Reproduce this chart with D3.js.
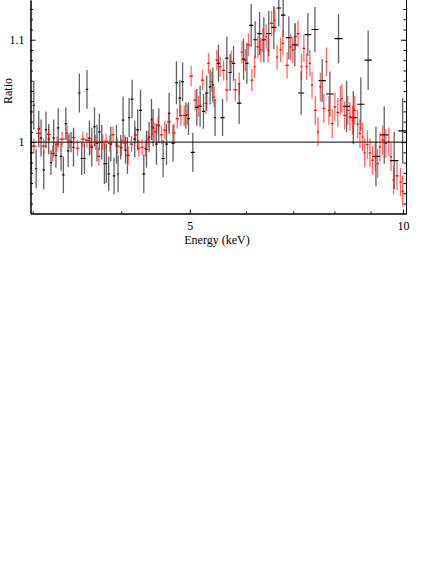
<!DOCTYPE html>
<html>
<head>
<meta charset="utf-8">
<script src="https://cdn.jsdelivr.net/npm/d3@7"></script>
<style>
  body { margin: 0; background: #fff; }
  svg { display: block; }
  text { font-family: "Liberation Serif", "DejaVu Serif", serif; }
</style>
</head>
<body>
<svg id="chart"></svg>
<script>
// Data group 1 (black): energy (keV), data/model ratio, 1-sigma error
const blackE = [2.984, 3.01, 3.033, 3.059, 3.082, 3.109, 3.132, 3.16, 3.183, 3.211,
  3.235, 3.259, 3.289, 3.314, 3.341, 3.366, 3.398, 3.425, 3.491, 3.518,
  3.549, 3.579, 3.607, 3.635, 3.667, 3.697, 3.726, 3.754, 3.787, 3.811,
  3.84, 3.867, 3.908, 3.939, 3.959, 3.994, 4.024, 4.056, 4.082, 4.104,
  4.144, 4.18, 4.22, 4.259, 4.305, 4.343, 4.38, 4.414, 4.437, 4.486,
  4.52, 4.584, 4.635, 4.674, 4.735, 4.787, 4.84, 4.884, 4.935, 4.979,
  5.049, 5.115, 5.17, 5.227, 5.283, 5.341, 5.388, 5.428, 5.488, 5.562,
  5.64, 5.70, 5.764, 5.871, 5.955, 6.02, 6.104, 6.184, 6.273, 6.361,
  6.464, 6.571, 6.678, 6.774, 6.90, 7.036, 7.182, 7.341, 7.51, 7.69,
  7.886, 8.11, 8.326, 8.51, 8.72, 8.93, 9.16, 9.41, 9.72, 9.99];
const blackRatio = [0.990, 1.036, 0.974, 1.013, 1.004, 0.973, 1.012, 1.003, 0.980, 1.004,
  0.987, 1.014, 0.986, 0.968, 1.018, 0.9915, 1.000, 0.995, 1.048, 0.984,
  0.984, 1.0515, 1.004, 0.995, 1.015, 0.999, 1.010, 1.000, 0.979, 0.979,
  0.969, 0.998, 0.967, 0.998, 0.969, 0.995, 1.0215, 0.992, 0.987, 1.024,
  1.042, 1.003, 1.012, 1.031, 0.969, 0.993, 1.005, 1.022, 1.014, 0.998,
  1.016, 0.984, 0.998, 1.028, 0.999, 1.058, 1.043, 1.059, 1.026, 1.023,
  0.990, 1.034, 1.035, 1.030, 1.048, 1.054, 1.056, 1.024, 1.077, 1.024,
  1.082, 1.068, 1.077, 1.038, 1.081, 1.077, 1.114, 1.100, 1.106, 1.100,
  1.106, 1.112, 1.131, 1.124, 1.102, 1.095, 1.048, 1.105, 1.110, 1.060,
  1.047, 1.101, 1.035, 1.024, 1.037, 1.080, 0.986, 1.007, 0.982, 1.011];
const blackErr = [0.018, 0.024, 0.019, 0.018, 0.018, 0.019, 0.018, 0.015, 0.012, 0.018,
  0.012, 0.019, 0.014, 0.018, 0.016, 0.016, 0.010, 0.019, 0.019, 0.016,
  0.015, 0.019, 0.017, 0.019, 0.019, 0.018, 0.018, 0.017, 0.020, 0.019,
  0.017, 0.017, 0.018, 0.019, 0.018, 0.012, 0.023, 0.013, 0.018, 0.019,
  0.019, 0.018, 0.020, 0.020, 0.019, 0.018, 0.015, 0.020, 0.018, 0.020,
  0.017, 0.018, 0.020, 0.020, 0.018, 0.021, 0.018, 0.019, 0.013, 0.016,
  0.019, 0.018, 0.020, 0.017, 0.017, 0.017, 0.017, 0.018, 0.018, 0.018,
  0.021, 0.018, 0.017, 0.020, 0.020, 0.020, 0.021, 0.018, 0.021, 0.022,
  0.022, 0.021, 0.018, 0.021, 0.021, 0.021, 0.021, 0.021, 0.022, 0.021,
  0.022, 0.024, 0.025, 0.026, 0.026, 0.029, 0.029, 0.028, 0.028, 0.032];

// Data group 2 (red)
const redE = [3.01, 3.059, 3.109, 3.16, 3.201, 3.246, 3.30, 3.354, 3.381, 3.426,
  3.47, 3.53, 3.579, 3.626, 3.679, 3.718, 3.767, 3.808, 3.854, 3.895,
  3.951, 4.003, 4.047, 4.091, 4.136, 4.19, 4.235, 4.281, 4.329, 4.366,
  4.423, 4.463, 4.511, 4.56, 4.61, 4.67, 4.75, 4.80, 4.856, 4.909,
  4.96, 5.021, 5.087, 5.144, 5.21, 5.267, 5.313, 5.371, 5.411, 5.459,
  5.518, 5.58, 5.64, 5.72, 5.797, 5.871, 5.923, 5.99, 6.052, 6.118,
  6.172, 6.239, 6.30, 6.34, 6.41, 6.45, 6.523, 6.592, 6.64, 6.717,
  6.767, 6.86, 6.94, 6.99, 7.05, 7.11, 7.19, 7.245, 7.31, 7.389,
  7.44, 7.52, 7.586, 7.645, 7.73, 7.80, 7.86, 7.945, 8.015, 8.09,
  8.16, 8.20, 8.27, 8.36, 8.416, 8.49, 8.55, 8.63, 8.694, 8.77,
  8.83, 8.91, 8.982, 9.06, 9.14, 9.21, 9.279, 9.36, 9.46, 9.55,
  9.62, 9.70, 9.81, 9.92, 9.99];
const redRatio = [0.996, 1.0085, 0.996, 1.0075, 0.989, 0.998, 1.003, 1.0085, 1.001, 1.0045,
  0.994, 1.003, 1.002, 0.996, 0.9997, 0.986, 1.000, 1.001, 0.9987, 1.007,
  0.996, 0.9945, 0.9993, 0.987, 0.998, 1.007, 0.994, 0.995, 0.994, 1.003,
  1.015, 1.010, 1.0166, 1.007, 1.0117, 1.0198, 1.009, 1.023, 1.026, 1.026,
  1.027, 1.0645, 1.041, 1.035, 1.0606, 1.0378, 1.077, 1.059, 1.044, 1.080,
  1.0736, 1.070, 1.051, 1.0785, 1.051, 1.057, 1.088, 1.080, 1.095, 1.0606,
  1.0736, 1.093, 1.090, 1.0997, 1.103, 1.090, 1.116, 1.119, 1.083, 1.090,
  1.0965, 1.075, 1.093, 1.090, 1.103, 1.106, 1.0736, 1.0916, 1.0736, 1.077,
  1.0557, 1.031, 1.010, 1.054, 1.033, 1.0785, 1.031, 1.018, 1.0345, 1.029,
  1.041, 1.0427, 1.026, 1.031, 1.025, 1.0215, 1.031, 1.0176, 1.0085, 1.005,
  0.9895, 0.9977, 0.9895, 0.9824, 0.9856, 0.979, 0.9954, 1.002, 0.9987, 1.0003,
  0.9856, 0.963, 0.967, 0.961, 0.952];
const redErr = [0.0075, 0.0075, 0.0075, 0.0075, 0.008, 0.0075, 0.0075, 0.0075, 0.0075, 0.0075,
  0.0075, 0.0075, 0.0075, 0.0075, 0.0075, 0.009, 0.0075, 0.0075, 0.008, 0.008,
  0.008, 0.008, 0.008, 0.009, 0.008, 0.008, 0.008, 0.008, 0.008, 0.008,
  0.009, 0.009, 0.009, 0.009, 0.009, 0.009, 0.009, 0.010, 0.010, 0.010,
  0.010, 0.010, 0.010, 0.010, 0.010, 0.010, 0.010, 0.010, 0.010, 0.010,
  0.010, 0.010, 0.011, 0.011, 0.011, 0.011, 0.011, 0.011, 0.011, 0.011,
  0.011, 0.011, 0.012, 0.012, 0.012, 0.012, 0.012, 0.012, 0.012, 0.012,
  0.012, 0.013, 0.013, 0.013, 0.013, 0.013, 0.013, 0.013, 0.013, 0.013,
  0.013, 0.014, 0.014, 0.014, 0.014, 0.014, 0.014, 0.014, 0.014, 0.014,
  0.014, 0.014, 0.014, 0.014, 0.014, 0.014, 0.014, 0.014, 0.014, 0.014,
  0.014, 0.014, 0.014, 0.014, 0.014, 0.014, 0.014, 0.014, 0.014, 0.014,
  0.014, 0.014, 0.014, 0.014, 0.015];

// Axis ticks
const xMajorTicks = [5, 10];
const xMinorTicks = [3, 4, 6, 7, 8, 9];
const yMajorTicks = [1, 1.1];
const yMinorTicks = [0.94, 0.95, 0.96, 0.97, 0.98, 0.99, 1.01, 1.02, 1.03, 1.04,
  1.05, 1.06, 1.07, 1.08, 1.09, 1.11, 1.12, 1.13];

const W = 441, H = 570;
const plotLeft = 30.5, plotRight = 406, plotTop = 0, plotBottom = 213.5;

const svg = d3.select("#chart").attr("width", W).attr("height", H);
svg.append("rect").attr("width", W).attr("height", H).attr("fill", "#fff");

const x = d3.scaleLog().domain([2.978, 10.1]).range([plotLeft, plotRight]);
const y = d3.scaleLinear().domain([0.9303, 1.1388]).range([plotBottom, plotTop]);

svg.append("clipPath").attr("id", "plot-clip")
  .append("rect")
  .attr("x", plotLeft).attr("y", plotTop)
  .attr("width", plotRight - plotLeft).attr("height", plotBottom - plotTop);

// build points with x half-widths from neighbouring bins (log space)
function makePoints(E, R, err) {
  return E.map((e, i) => {
    const gl = i > 0 ? Math.log10(e / E[i - 1]) : Infinity;
    const gr = i < E.length - 1 ? Math.log10(E[i + 1] / e) : Infinity;
    const h = Math.min(gl, gr) / 2;
    return { e, r: R[i], err: err[i], lo: e * Math.pow(10, -h), hi: e * Math.pow(10, h) };
  });
}

const black = makePoints(blackE, blackRatio, blackErr);
const red = makePoints(redE, redRatio, redErr);

const plot = svg.append("g").attr("clip-path", "url(#plot-clip)");

// reference line at ratio = 1
plot.append("line")
  .attr("x1", plotLeft).attr("x2", plotRight)
  .attr("y1", y(1)).attr("y2", y(1))
  .attr("stroke", "#000").attr("stroke-width", 1);

function drawGroup(data, barColor, barOpacity, tickColor) {
  const g = plot.append("g");
  g.selectAll("line.v")
    .data(data)
    .join("line")
    .attr("class", "v")
    .attr("x1", (d) => x(d.e)).attr("x2", (d) => x(d.e))
    .attr("y1", (d) => y(d.r - d.err)).attr("y2", (d) => y(d.r + d.err))
    .attr("stroke", barColor)
    .attr("stroke-opacity", barOpacity)
    .attr("stroke-width", 1.3);
  g.selectAll("line.h")
    .data(data)
    .join("line")
    .attr("class", "h")
    .attr("x1", (d) => x(d.lo)).attr("x2", (d) => x(d.hi))
    .attr("y1", (d) => y(d.r)).attr("y2", (d) => y(d.r))
    .attr("stroke", tickColor)
    .attr("stroke-width", 1.2);
}

drawGroup(black, "#000", 0.62, "#000");
drawGroup(red, "#ff0000", 0.6, "#ff0000");

// axes
const bottomAxis = d3.axisBottom(x).tickValues(xMajorTicks)
  .tickSizeInner(-4).tickSizeOuter(0).tickPadding(8)
  .tickFormat(d3.format("d"));
const bottomMinor = d3.axisBottom(x).tickValues(xMinorTicks)
  .tickSizeInner(-2).tickSizeOuter(0).tickFormat("");
const leftAxis = d3.axisLeft(y).tickValues(yMajorTicks)
  .tickSizeInner(-5).tickSizeOuter(0).tickPadding(6)
  .tickFormat((d) => (d === 1 ? "1" : "1.1"));
const leftMinor = d3.axisLeft(y).tickValues(yMinorTicks)
  .tickSizeInner(-2.5).tickSizeOuter(0).tickFormat("");
const rightAxis = d3.axisRight(y).tickValues(yMajorTicks)
  .tickSizeInner(-5).tickSizeOuter(0).tickFormat("");
const rightMinor = d3.axisRight(y).tickValues(yMinorTicks)
  .tickSizeInner(-2.5).tickSizeOuter(0).tickFormat("");

function styleAxis(g) {
  g.selectAll("path.domain").attr("stroke", "#000").attr("stroke-width", 1);
  g.selectAll(".tick line").attr("stroke", "#000");
  g.selectAll(".tick text")
    .attr("font-family", "Liberation Serif, serif")
    .attr("font-size", 12).attr("fill", "#000");
}

svg.append("g").attr("transform", `translate(0,${plotBottom})`).call(bottomMinor).call(styleAxis);
svg.append("g").attr("transform", `translate(0,${plotBottom})`).call(bottomAxis).call(styleAxis);
svg.append("g").attr("transform", `translate(${plotLeft},0)`).call(leftMinor).call(styleAxis);
svg.append("g").attr("transform", `translate(${plotLeft},0)`).call(leftAxis).call(styleAxis);
svg.append("g").attr("transform", `translate(${plotRight},0)`).call(rightMinor).call(styleAxis);
svg.append("g").attr("transform", `translate(${plotRight},0)`).call(rightAxis).call(styleAxis);

// axis titles
svg.append("text")
  .attr("x", 217).attr("y", 244)
  .attr("text-anchor", "middle")
  .attr("font-size", 12)
  .text("Energy (keV)");

svg.append("text")
  .attr("transform", "translate(12,91) rotate(-90)")
  .attr("text-anchor", "middle")
  .attr("font-size", 12)
  .text("Ratio");
</script>
</body>
</html>
